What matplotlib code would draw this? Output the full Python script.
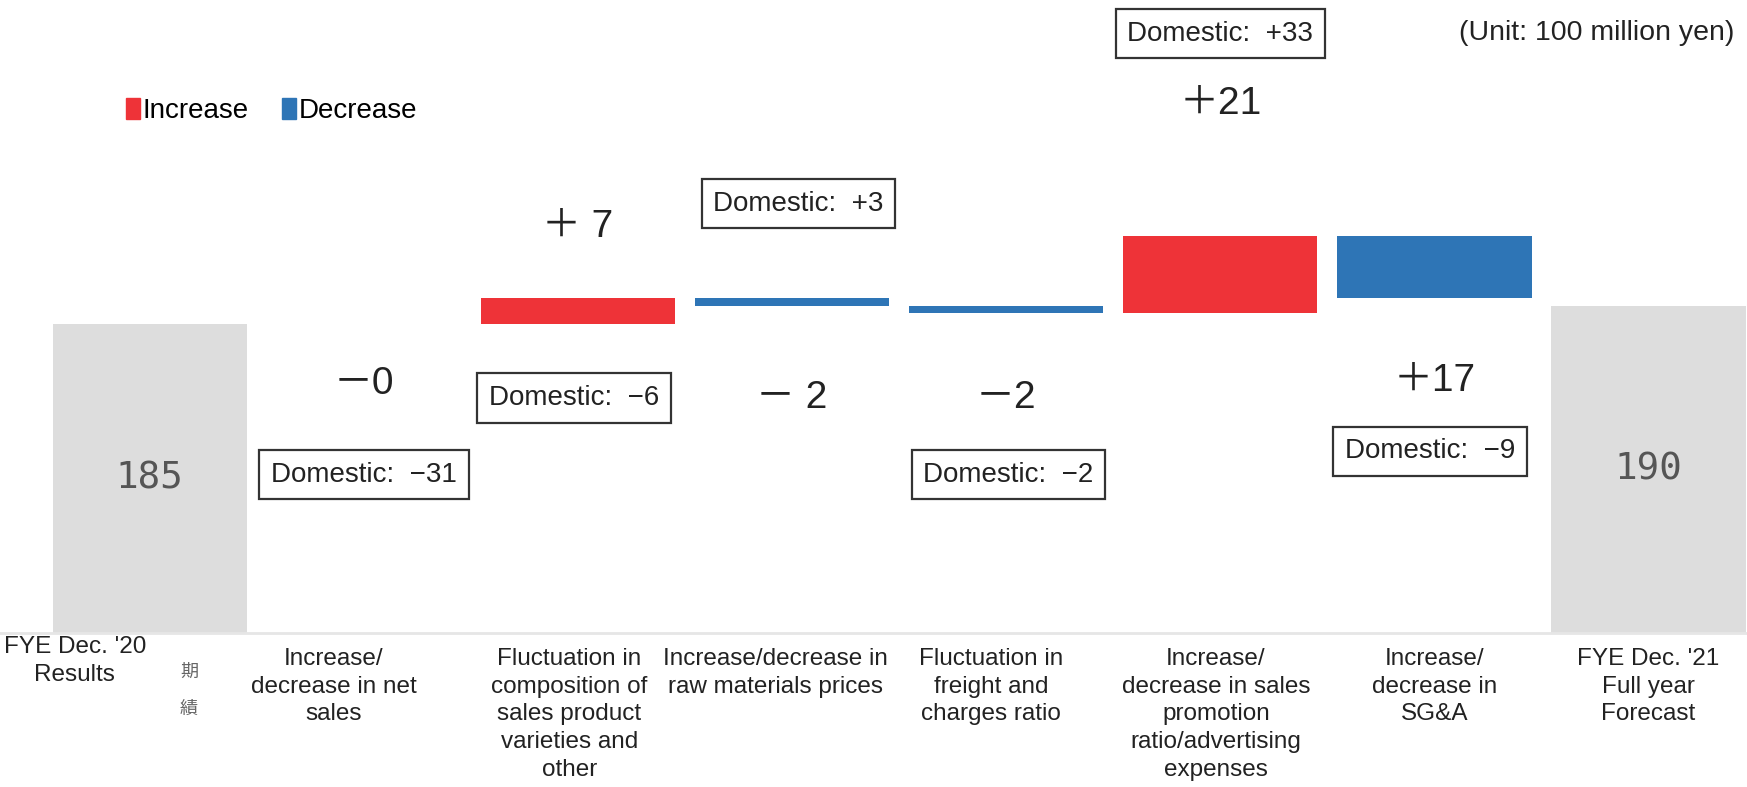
import matplotlib
matplotlib.use("Agg")
import matplotlib.pyplot as plt
from matplotlib.patches import Patch

plt.rcParams['font.family'] = ['Liberation Sans', 'Noto Sans CJK JP']

# operating profit bridge, unit: 100 million yen
categories = [
    "FYE Dec. '20\nResults",
    "Increase/\ndecrease in net\nsales",
    "Fluctuation in\ncomposition of\nsales product\nvarieties and\nother",
    "Increase/decrease in\nraw materials prices",
    "Fluctuation in\nfreight and\ncharges ratio",
    "Increase/\ndecrease in sales\npromotion\nratio/advertising\nexpenses",
    "Increase/\ndecrease in\nSG&A",
    "FYE Dec. '21\nFull year\nForecast",
]
start_value = 185
end_value = 190
changes = [-0.0, 7, -2, -2, 21, -17]
change_labels = ["－0", "＋ 7", "－ 2", "－2", "＋21", "＋17"]
domestic_labels = ["−31", "−6", "+3", "−2", "+33", "−9"]

RED = "#EE3338"
BLUE = "#2E75B6"
GREY = "#DDDDDD"

# layout (x in slot units, y in axes fraction)
change_label_y = [0.393, 0.641, 0.371, 0.371, 0.836, 0.398]
domestic_box_y = [0.250, 0.371, 0.678, 0.250, 0.947, 0.287]
domestic_box_dx = [0.0, -0.02, 0.03, 0.01, 0.0, -0.02]
cat_label_x = [-0.35, 0.86, 1.96, 2.92, 3.93, 4.98, 6.0, 7.0]
y_floor = 100.3

fig = plt.figure(figsize=(17.47, 7.87), dpi=100)
ax = fig.add_axes([0, 154 / 787, 1, 633 / 787])

# totals
ax.bar(0, start_value, width=0.907, color=GREY)
ax.bar(len(changes) + 1, end_value, width=0.907, color=GREY)

# floating change bars
running = start_value
for i, d in enumerate(changes):
    ax.bar(i + 1, d, bottom=running, width=0.907, color=RED if d > 0 else BLUE)
    running += d

ax.set_ylim(y_floor, y_floor + 633 / 3.65)
ax.set_xlim(-0.70, 7.46)
ax.set_xticks([])
ax.set_yticks([])
for side in ["top", "left", "right"]:
    ax.spines[side].set_visible(False)
ax.spines["bottom"].set_color("#e6e6e6")
ax.spines["bottom"].set_linewidth(2)

# totals written inside the grey bars
for x, v in [(0, start_value), (len(changes) + 1, end_value)]:
    ax.text(x, (y_floor + v) / 2, str(v), ha="center", va="center",
            fontsize=27, color="#555555", family="DejaVu Sans Mono")

tr = ax.get_xaxis_transform()
for i, (lab, dom) in enumerate(zip(change_labels, domestic_labels)):
    ax.text(i + 1, change_label_y[i], lab, transform=tr, ha="center",
            va="center", fontsize=28, color="#222222")
    ax.text(i + 1 + domestic_box_dx[i], domestic_box_y[i], f"Domestic:  {dom}",
            transform=tr, ha="center", va="center", fontsize=20,
            color="#222222",
            bbox=dict(boxstyle="square,pad=0.42", fc="white", ec="#333333", lw=1.6))

# category names under the bars
for i, name in enumerate(categories):
    top = -0.005 if i == 0 else -0.024
    ax.text(cat_label_x[i], top, name, transform=tr, ha="center", va="top",
            fontsize=17.5, color="#222222", linespacing=1.33,
            multialignment="center", clip_on=False)

fig.text(189 / 1747, 1 - 672 / 787, "期", ha="center", va="center",
         fontsize=13, color="#666666", family="Noto Sans CJK JP")
fig.text(189 / 1747, 1 - 709 / 787, "績", ha="center", va="center",
         fontsize=13, color="#666666", family="Noto Sans CJK JP")

fig.text(1734 / 1747, 1 - 33 / 787, "(Unit: 100 million yen)", ha="right",
         va="center", fontsize=20.5, color="#222222")

handles = [Patch(color=RED, label="Increase"), Patch(color=BLUE, label="Decrease")]
fig.legend(handles=handles, loc="upper left", bbox_to_anchor=(0.064, 0.893),
           ncol=2, frameon=False, fontsize=20, handlelength=0.5,
           handleheight=0.8, handletextpad=0.1, columnspacing=1.2,
           borderpad=0)

fig.savefig("out.png", dpi=100, facecolor="white")
